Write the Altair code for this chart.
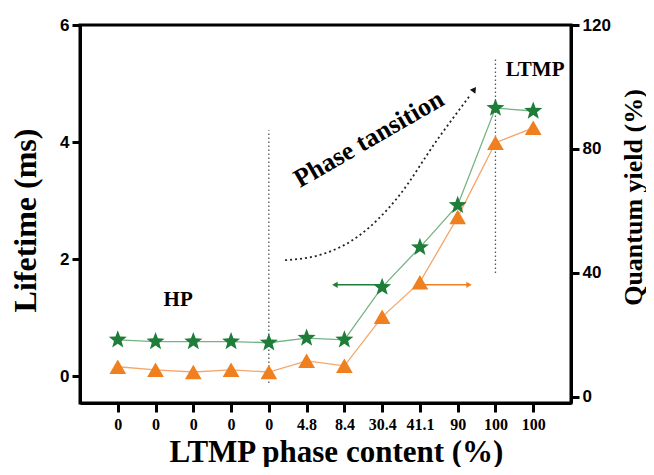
import altair as alt
import pandas as pd

# ---- data ----
x_labels = ["0", "0", "0", "0", "0", "4.8", "8.4", "30.4", "41.1", "90", "100", "100"]
positions = list(range(1, 13))
lifetime = [0.62, 0.59, 0.59, 0.59, 0.57, 0.65, 0.62, 1.52, 2.20, 2.92, 4.58, 4.53]
quantum_yield = [9.7, 8.7, 8.0, 8.7, 8.0, 11.6, 10.0, 25.8, 37.0, 58.0, 82.0, 86.8]

# annotation geometry (data units of the left axis)
vline_group = ["a", "a", "b", "b"]
vline_pos = [5, 5, 11, 11]
vline_val = [-0.12, 4.2, 1.76, 5.44]

curve_pos = [5.43, 6.35, 7.41, 8.42, 9.45, 10.33]
curve_val = [1.98, 2.07, 2.41, 3.06, 4.03, 4.80]
curve_head_pos = [10.44]
curve_head_val = [4.90]

green_arrow_pos = [6.75, 8.0]
orange_arrow_pos = [9.0, 10.3]
arrow_val = [1.56, 1.56]

text_labels = ["HP", "LTMP"]
text_pos = [2.6, 12.05]
text_val = [1.3, 5.23]

phase_text = ["Phase tansition"]
phase_pos = [7.65]
phase_val = [4.05]

GREEN = "#1e7d39"
GREEN_LINE = "#74b383"
ORANGE = "#f0801f"
ORANGE_LINE = "#f4a66c"
SERIF = "Liberation Serif"
SANS = "Liberation Sans"

STAR = ("M0,-1L0.247,-0.34L0.951,-0.309L0.399,0.13L0.588,0.809L0,0.42"
        "L-0.588,0.809L-0.399,0.13L-0.951,-0.309L-0.247,-0.34Z")

df = pd.DataFrame({"pos": positions, "lifetime": lifetime, "qy": quantum_yield})

label_expr = "[" + ",".join("'" + s + "'" for s in x_labels) + "][datum.value - 1]"

x_axis = alt.Axis(
    values=positions, labelExpr=label_expr, title="LTMP phase content (%)", orient="bottom",
    grid=False, domainColor="black", domainWidth=3, tickColor="black", tickWidth=3,
    tickSize=9, labelFont=SERIF, labelFontWeight="bold", labelFontSize=16,
    labelColor="black", labelPadding=4, titleFont=SERIF, titleFontWeight="bold",
    titleFontSize=31, titleColor="black", titleBaseline="alphabetic",
    titleX=256, titleY=58, titleAlign="center",
)
x_scale = alt.Scale(domain=[0, 13], nice=False, zero=False)


def X():
    return alt.X("pos:Q", scale=x_scale, axis=x_axis)


left_axis = alt.Axis(
    title="Lifetime (ms)", values=[0, 2, 4, 6], orient="left", grid=False,
    domainColor="black", domainWidth=3, tickColor="black", tickWidth=3, tickSize=8,
    labelFont=SANS, labelFontWeight="bold", labelFontSize=17, labelColor="black",
    labelPadding=3, titleFont=SERIF, titleFontWeight="bold", titleFontSize=32,
    titleColor="black", titleAngle=270, titleX=-55, titleY=195,
    titleAlign="center", titleBaseline="middle",
)
left_domain = [-0.46, 6]


def YL(show=False):
    sc = alt.Scale(domain=left_domain, nice=False, zero=False)
    if show:
        return alt.Y("lifetime:Q", scale=sc, axis=left_axis)
    return alt.Y("lifetime:Q", scale=sc, axis=None)


right_axis = alt.Axis(
    title="Quantum yield (%)", values=[0, 40, 80, 120], orient="right", grid=False,
    domainColor="black", domainWidth=3, tickColor="black", tickWidth=3, tickSize=8,
    labelFont=SANS, labelFontWeight="bold", labelFontSize=17, labelColor="black",
    labelPadding=3, titleFont=SERIF, titleFontWeight="bold", titleFontSize=26,
    titleColor="black", titleAngle=270, titleX=62, titleY=172,
    titleAlign="center", titleBaseline="middle",
)
right_domain = [-2, 120]


def YR(show=False):
    sc = alt.Scale(domain=right_domain, nice=False, zero=False)
    if show:
        return alt.Y("qy:Q", scale=sc, axis=right_axis)
    return alt.Y("qy:Q", scale=sc, axis=None)


vlines = alt.Chart(pd.DataFrame({"pos": vline_pos, "lifetime": vline_val, "g": vline_group})).mark_line(
    color="#555555", strokeWidth=1.3, strokeDash=[1.5, 2.5]
).encode(x=X(), y=YL(), detail="g:N")

curve = alt.Chart(pd.DataFrame({"pos": curve_pos, "lifetime": curve_val})).mark_line(
    color="#222222", strokeWidth=1.8, strokeDash=[2, 3], interpolate="monotone"
).encode(x=X(), y=YL())

curve_head = alt.Chart(pd.DataFrame({"pos": curve_head_pos, "lifetime": curve_head_val})).mark_point(
    shape="triangle-up", filled=True, color="#111111", size=45, angle=35, opacity=1
).encode(x=X(), y=YL())

g_arrow = alt.Chart(pd.DataFrame({"pos": green_arrow_pos, "lifetime": arrow_val})).mark_line(
    color=GREEN, strokeWidth=1.6
).encode(x=X(), y=YL())
g_head = alt.Chart(pd.DataFrame({"pos": green_arrow_pos[:1], "lifetime": arrow_val[:1]})).mark_point(
    shape="triangle-left", filled=True, color=GREEN, size=40, opacity=1
).encode(x=X(), y=YL())

o_arrow = alt.Chart(pd.DataFrame({"pos": orange_arrow_pos, "lifetime": arrow_val})).mark_line(
    color=ORANGE, strokeWidth=1.6
).encode(x=X(), y=YL())
o_head = alt.Chart(pd.DataFrame({"pos": orange_arrow_pos[1:], "lifetime": arrow_val[1:]})).mark_point(
    shape="triangle-right", filled=True, color=ORANGE, size=40, opacity=1
).encode(x=X(), y=YL())

labels = alt.Chart(pd.DataFrame({"pos": text_pos, "lifetime": text_val, "t": text_labels})).mark_text(
    font=SERIF, fontWeight="bold", fontSize=21, color="black", baseline="middle", align="center"
).encode(x=X(), y=YL(), text="t:N")

phase = alt.Chart(pd.DataFrame({"pos": phase_pos, "lifetime": phase_val, "t": phase_text})).mark_text(
    font=SERIF, fontWeight="bold", fontSize=26, color="black", baseline="middle", align="center",
    angle=330
).encode(x=X(), y=YL(), text="t:N")

g_line = alt.Chart(df).mark_line(color=GREEN_LINE, strokeWidth=1.3).encode(x=X(), y=YL())
o_line = alt.Chart(df).mark_line(color=ORANGE_LINE, strokeWidth=1.3).encode(x=X(), y=YR())
g_pts = alt.Chart(df).mark_point(shape=STAR, filled=True, color=GREEN, size=360, opacity=1).encode(
    x=X(), y=YL(True)
)
o_pts = alt.Chart(df).mark_point(shape="triangle-up", filled=True, color=ORANGE, size=280, opacity=1).encode(
    x=X(), y=YR(True)
)

chart = alt.layer(
    vlines, curve, curve_head, g_arrow, g_head, o_arrow, o_head, labels, phase,
    g_line, o_line, g_pts, o_pts
).resolve_scale(y="independent").properties(
    width=491, height=378,
    autosize=alt.AutoSizeParams(type="none"),
    padding={"left": 72, "top": 17, "right": 75, "bottom": 64},
    background="white",
).configure_view(stroke="black", strokeWidth=3)

chart.save("out.html", embed_options={"renderer": "svg", "actions": False})
